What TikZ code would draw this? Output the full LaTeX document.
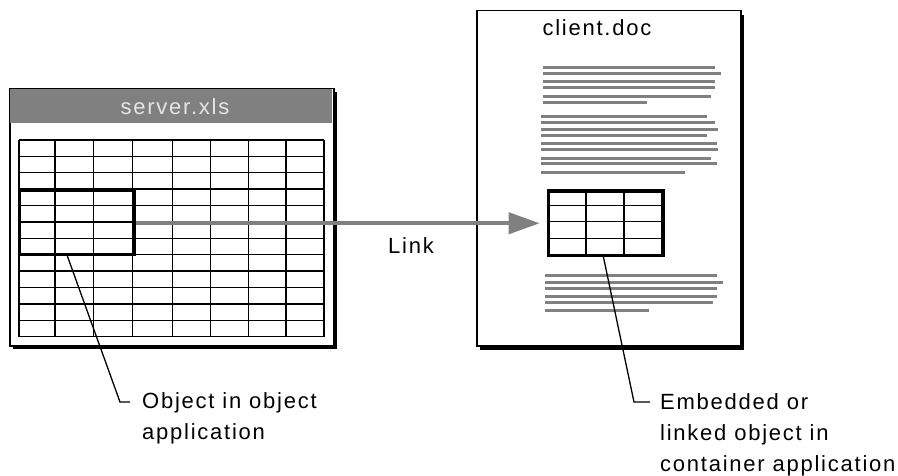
\documentclass[tikz,border=0pt]{standalone}
\usepackage{fontspec}
\setmainfont{Liberation Sans}[LetterSpace=8]
\usetikzlibrary{arrows.meta,calc}
\definecolor{midgray}{HTML}{808080}
\begin{document}
\begin{tikzpicture}[x=1pt,y=-1pt,
  lbl/.style={font=\fontsize{22}{31}\selectfont, inner sep=0pt, anchor=base west, align=left},
  win/.style={draw=black, line width=1.5pt, fill=white, inner sep=0pt, anchor=north west},
  gridline/.style={line width=1.4pt, black},
  textline/.style={line width=3pt, midgray},
  thickbox/.style={draw=black, line width=3.5pt, inner sep=0pt, anchor=north west},
  link/.style={midgray, line width=4pt, -{Triangle[length=31pt,width=21pt]}, shorten >=7pt},
  leader/.style={line width=1.3pt, black}
]
\useasboundingbox (0,0) rectangle (898,476);

% ---------- server window ----------
\fill[black] (13,92) rectangle (337,349);
\node (server) [win, minimum width=324pt, minimum height=257pt] at (9,88) {};
\fill[midgray] (9.75,88.75) rectangle (332.25,123);
\node (servertitle) [lbl, anchor=base, text=white!90!black] at (175,115) {server.xls};
\foreach \x in {19,55,93.3,132.3,172.3,210.7,248.3,286,324}
  \draw[gridline] (\x,140) -- (\x,336.7);
\foreach \i in {0,...,12}{
  \pgfmathsetmacro{\yy}{140+16.39*\i}
  \draw[gridline] (19,\yy) -- (324,\yy);
}
\node (obj) [thickbox, minimum width=114.8pt, minimum height=64.5pt] at (17.5,188.5) {};

% ---------- client page ----------
\fill[black] (480,15) rectangle (744,350);
\node (client) [win, minimum width=264pt, minimum height=335pt] at (476,10) {};
\node (clienttitle) [lbl, anchor=base] at (597,36) {client.doc};

% text lines
\foreach \y/\e in {68/715,74/721,82/715,88/715,97/711,103/647}
  \draw[textline] (543,\y) -- (\e,\y);
\foreach \y/\e in {116.7/707,122.3/715,130/718,136/707,144/717,150/718,158.3/711,164/717,172.3/685}
  \draw[textline] (541,\y) -- (\e,\y);
\foreach \y/\e in {275/717,282.7/723,288.3/717,296.7/717,302.3/713,310.7/649}
  \draw[textline] (545,\y) -- (\e,\y);

% embedded table
\foreach \x in {586,624}
  \draw[gridline] (\x,189.2) -- (\x,253.8);
\foreach \y in {205.7,221.7,238.3}
  \draw[gridline] (546.7,\y) -- (661.3,\y);
\node (emb) [thickbox, minimum width=114.6pt, minimum height=64.6pt] at (546.7,189.2) {};

% ---------- link arrow ----------
\draw[link] (emb.west -| obj.east) -- (emb.west);
\node (linklbl) [lbl] at (388,254) {Link};

% ---------- callouts ----------
\coordinate (l1s) at (67,255);
\coordinate (l1c) at (120,402);
\coordinate (l1e) at (130,402);
\draw[leader] (l1s) -- (l1c) -- (l1e);
\node (objlbl) [lbl] at (142,439) {Object in object\\application};

\coordinate (l2s) at (603,255);
\coordinate (l2c) at (634,402);
\coordinate (l2e) at (650,402);
\draw[leader] (l2s) -- (l2c) -- (l2e);
\node (emblbl) [lbl] at (660,471) {Embedded or\\linked object in\\container application};
\end{tikzpicture}
\end{document}
